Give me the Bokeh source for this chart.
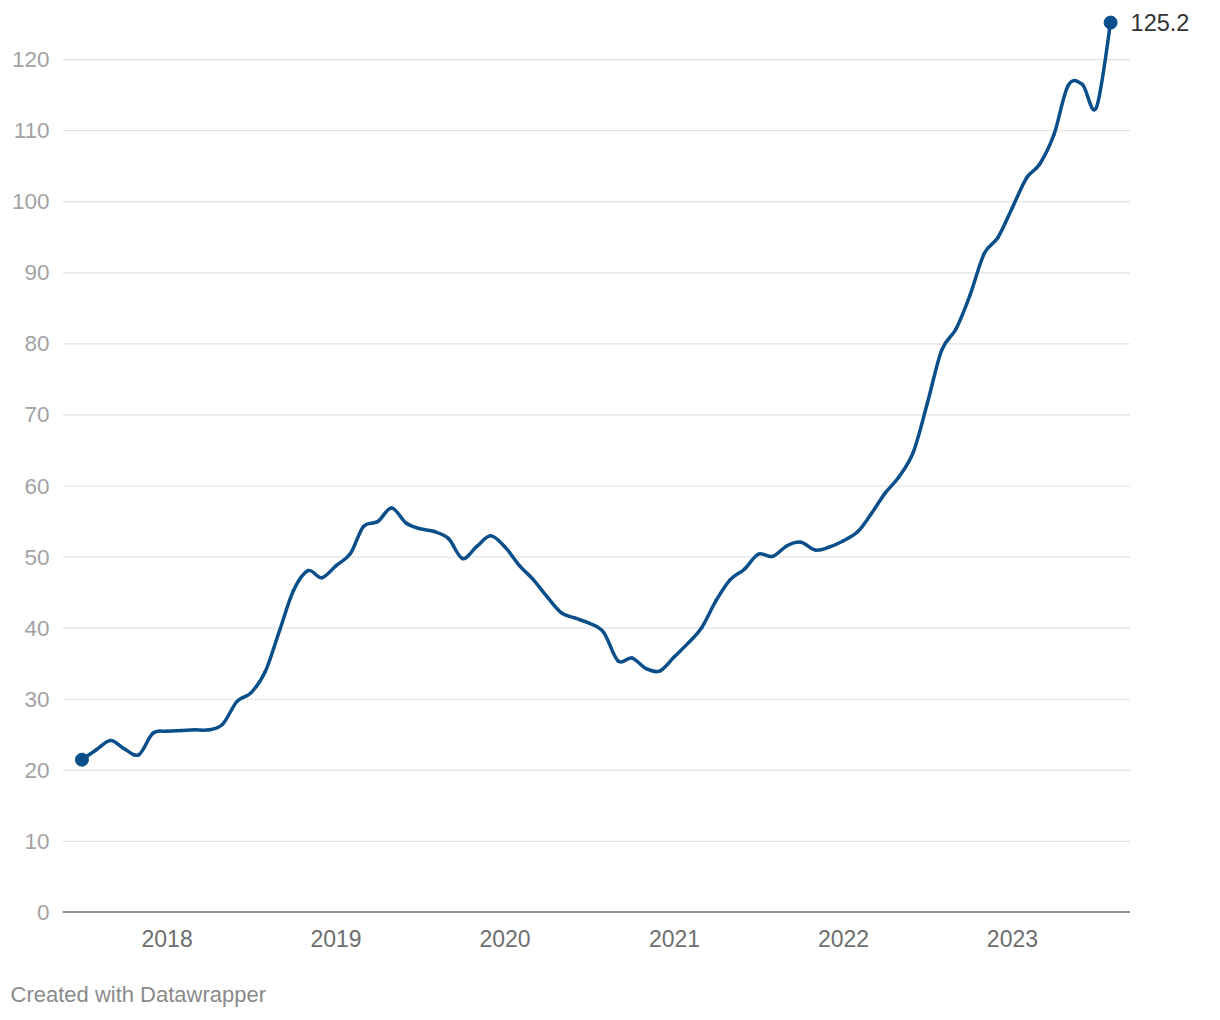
import numpy as np
import pandas as pd
from bokeh.plotting import figure
from bokeh.models import (FixedTicker, DatetimeTickFormatter, Label, Title,
                          Range1d, ColumnDataSource)
from bokeh.embed import file_html
from bokeh.resources import INLINE

# ---------------- data ----------------
months = pd.date_range("2017-07-01", "2023-08-01", freq="MS")
values = [
    21.5, 22.9, 24.2, 23.0, 22.2, 25.2,            # 2017 Jul-Dec
    25.5, 25.6, 25.7, 25.7, 26.5, 29.7,            # 2018 Jan-Jun
    30.9, 33.9, 39.7, 45.3, 48.1, 47.1,            # 2018 Jul-Dec
    48.8, 50.5, 54.3, 55.0, 56.9, 54.8,            # 2019 Jan-Jun
    54.0, 53.6, 52.6, 49.8, 51.5, 53.0,            # 2019 Jul-Dec
    51.4, 48.8, 46.9, 44.4, 42.2, 41.4,            # 2020 Jan-Jun
    40.7, 39.4, 35.4, 35.8, 34.3, 34.0,            # 2020 Jul-Dec
    36.0, 38.0, 40.1, 43.9, 46.8, 48.3,            # 2021 Jan-Jun
    50.4, 50.1, 51.6, 52.1, 51.0, 51.4,            # 2021 Jul-Dec
    52.3, 53.6, 56.0, 59.0, 61.3, 64.8,            # 2022 Jan-Jun
    71.6, 79.1, 82.1, 86.8, 92.7, 95.0,            # 2022 Jul-Dec
    99.2, 103.4, 105.3, 109.5, 116.3, 116.5,       # 2023 Jan-Jun
    113.2, 125.2,                                  # 2023 Jul-Aug
]
year_ticks = [2018, 2019, 2020, 2021, 2022, 2023]
y_ticks = [0, 10, 20, 30, 40, 50, 60, 70, 80, 90, 100, 110, 120]
credit = "Created with Datawrapper"

LINE = "#0b4f8a"
FONT = "Liberation Sans"


def ms(ts):
    return pd.Timestamp(ts).value / 1e6


xs = np.array([ms(m) for m in months])
ys = np.array(values, dtype=float)

# smooth curve: Catmull-Rom segments drawn as Bezier glyphs
n = len(xs)
xp = np.concatenate([[xs[0]], xs, [xs[-1]]])
yp = np.concatenate([[ys[0]], ys, [ys[-1]]])
seg = dict(x0=[], y0=[], x1=[], y1=[], cx0=[], cy0=[], cx1=[], cy1=[])
for i in range(n - 1):
    xa, ya = xp[i], yp[i]
    xb, yb = xp[i + 1], yp[i + 1]
    xc, yc = xp[i + 2], yp[i + 2]
    xd, yd = xp[i + 3], yp[i + 3]
    seg["x0"].append(xb); seg["y0"].append(yb)
    seg["x1"].append(xc); seg["y1"].append(yc)
    seg["cx0"].append(xb + (xc - xa) / 6.0); seg["cy0"].append(yb + (yc - ya) / 6.0)
    seg["cx1"].append(xc - (xd - xb) / 6.0); seg["cy1"].append(yc - (yd - yb) / 6.0)
src = ColumnDataSource(seg)

x_start = ms("2017-05-20")
grid_end = ms("2023-09-12")
x_end = ms("2024-02-22")

p = figure(frame_width=1143, frame_height=902, x_axis_type="datetime",
           output_backend="svg", toolbar_location=None,
           min_border_left=62, min_border_right=5, min_border_top=10,
           min_border_bottom=0)
p.x_range = Range1d(x_start, x_end)
p.y_range = Range1d(0, 126.9)
p.outline_line_color = None
p.background_fill_color = "white"
p.border_fill_color = "white"

# gridlines and baseline (stop at the right end of the data area)
grid_y = [t for t in y_ticks if t != 0]
p.segment(x0=[x_start] * len(grid_y), y0=grid_y, x1=[grid_end] * len(grid_y),
          y1=grid_y, line_color="#e3e3e3", line_width=1.2)
p.segment(x0=[x_start], y0=[0], x1=[grid_end], y1=[0],
          line_color="#262626", line_width=2)

p.bezier(x0="x0", y0="y0", x1="x1", y1="y1", cx0="cx0", cy0="cy0",
         cx1="cx1", cy1="cy1", source=src, line_color=LINE, line_width=3.5,
         line_cap="round")
p.scatter([xs[0], xs[-1]], [ys[0], ys[-1]], size=13, fill_color=LINE,
          line_color=LINE)

p.add_layout(Label(x=xs[-1], y=ys[-1], text=f"{values[-1]}", x_offset=20,
                   text_baseline="middle", text_align="left",
                   text_font=FONT, text_font_size="23.5px",
                   text_color="#333333"))

# y axis
p.yaxis.ticker = FixedTicker(ticks=y_ticks)
p.yaxis.axis_line_color = None
p.yaxis.major_tick_line_color = None
p.yaxis.minor_tick_line_color = None
p.yaxis.major_label_text_font = FONT
p.yaxis.major_label_text_font_size = "22.5px"
p.yaxis.major_label_text_color = "#a3a3a3"
p.yaxis.major_label_standoff = 7
p.ygrid.grid_line_color = None
p.xgrid.grid_line_color = None

# x axis
p.xaxis.ticker = FixedTicker(ticks=[ms(f"{y}-01-01") for y in year_ticks])
p.xaxis.formatter = DatetimeTickFormatter(
    years="%Y", months="%Y", days="%Y", hours="%Y", minutes="%Y",
    seconds="%Y", milliseconds="%Y", microseconds="%Y", hourmin="%Y",
    minsec="%Y")
p.xaxis.axis_line_color = None
p.xaxis.major_tick_line_color = None
p.xaxis.minor_tick_line_color = None
p.xaxis.major_label_text_font = FONT
p.xaxis.major_label_text_font_size = "23px"
p.xaxis.major_label_text_color = "#6e6e6e"
p.xaxis.major_label_standoff = 11

p.add_layout(Title(text=credit, align="left", offset=-52,
                   text_font=FONT, text_font_size="22px",
                   text_font_style="normal", text_color="#8a8a8a",
                   standoff=61), "below")

open("out.html", "w").write(file_html(p, INLINE))
